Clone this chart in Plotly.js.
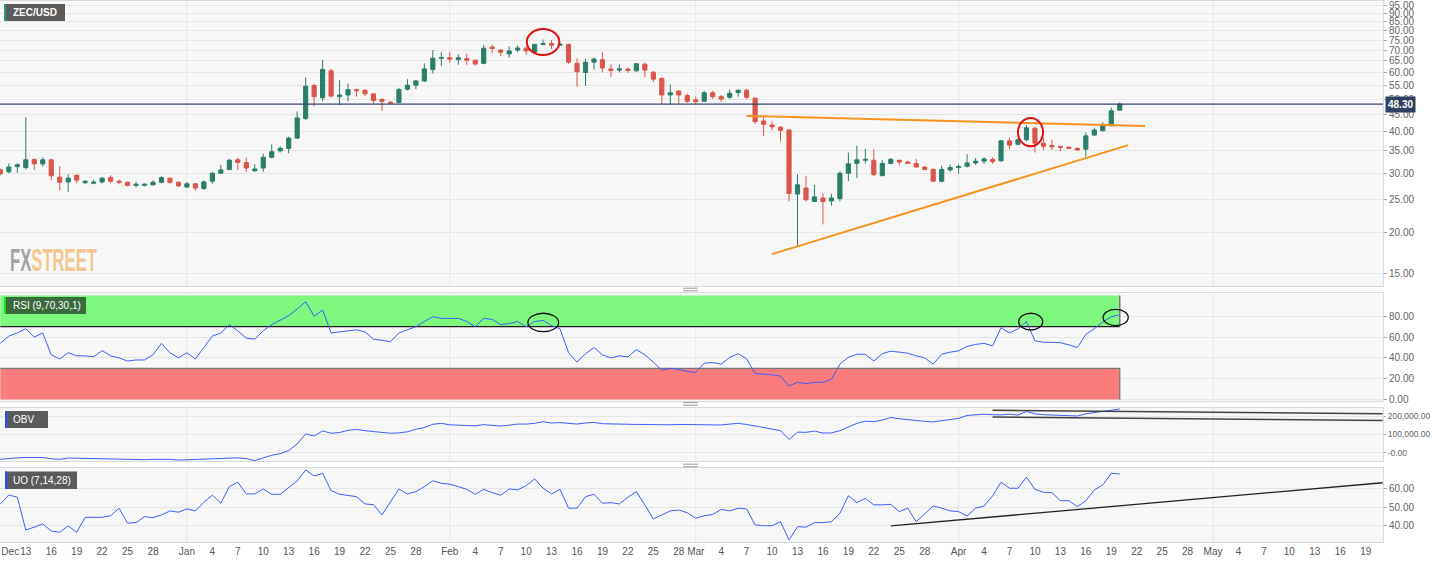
<!DOCTYPE html>
<html><head><meta charset="utf-8">
<script src="https://cdn.plot.ly/plotly-3.0.1.min.js"></script>
<style>html,body{margin:0;padding:0;background:#fff;}#chart{width:1432px;height:561px;}</style>
</head><body><div id="chart"></div>
<script>
// ---------- DATA ----------
const startDate = [2019, 11, 10]; // first daily candle: 2019-12-10
const openP = [30.7,30.3,31.4,31.2,33.0,32.0,32.9,29.2,28.25,29.6,
28.1,28.0,28.25,29.1,28.4,28.2,27.6,27.6,27.7,28.2,
29.0,28.2,27.3,27.9,27.0,28.4,30.0,30.8,32.9,32.3,
30.5,31.1,33.5,35.0,35.6,38.2,43.7,54.9,50.4,60.7,
50.8,51.4,53.4,53.1,51.8,49.8,48.9,48.8,53.5,55.0,
56.6,61.3,66.2,66.4,65.6,66.0,65.3,63.9,71.5,70.0,
68.2,70.0,70.9,68.9,72.8,73.2,72.4,72.8,63.9,60.0,
64.4,65.5,61.5,61.0,61.4,60.7,63.5,60.1,57.6,51.4,
52.8,51.2,49.7,49.2,52.2,50.8,50.6,52.3,53.1,50.3,
43.0,41.8,41.2,40.4,26.0,27.1,24.7,25.3,24.8,25.2,
30.0,32.1,32.8,32.8,29.5,32.1,32.8,32.4,32.1,31.3,
30.8,28.4,30.7,31.2,31.5,32.2,32.6,33.0,32.7,37.5,
36.6,37.8,40.9,36.9,36.3,36.1,35.9,35.6,35.4,39.0,
40.2,41.6,46.3];
const highP = [31.0,32.1,32.1,44.1,33.1,33.5,33.0,31.5,29.8,29.7,
28.6,28.7,29.2,29.6,28.7,28.3,28.3,28.0,28.6,29.4,
29.1,28.4,28.2,28.0,28.6,30.3,31.8,33.1,33.4,33.4,
31.9,34.3,36.6,36.1,38.6,45.9,58.0,55.5,65.4,61.5,
56.9,55.6,53.4,53.6,51.8,50.3,49.3,54.0,57.3,56.9,
63.9,70.0,69.0,69.0,68.0,68.3,65.5,72.6,72.6,70.4,
71.9,72.3,71.9,73.0,75.3,75.0,73.6,73.2,66.1,65.9,
66.5,69.0,63.5,63.5,62.2,64.0,64.3,60.6,58.0,55.3,
53.2,51.9,50.9,52.9,52.9,51.4,53.3,53.4,53.6,50.5,
44.1,42.8,41.5,40.5,29.8,29.5,27.7,26.1,26.0,30.4,
34.6,36.3,35.5,35.4,32.8,33.3,32.9,32.7,33.1,31.4,
31.0,31.6,31.9,31.9,34.2,33.3,33.5,33.5,37.7,38.3,
38.1,41.8,41.2,38.3,37.8,36.1,36.0,35.9,39.7,41.0,
42.6,47.1,48.8];
const lowP = [29.6,30.0,30.1,30.8,30.7,31.4,28.6,26.7,26.4,28.0,
27.9,27.8,28.0,28.0,27.8,27.4,27.2,27.4,27.6,28.0,
27.9,27.3,27.1,26.6,26.8,27.9,29.9,30.6,30.7,30.3,
30.3,30.3,33.2,34.6,34.4,38.0,43.3,47.5,49.2,50.5,
47.9,49.2,50.8,51.0,48.3,46.1,48.3,48.6,53.1,53.5,
56.2,59.6,62.8,64.2,63.3,63.3,62.9,63.5,68.5,67.2,
66.4,68.9,67.8,68.2,72.3,70.5,72.0,63.7,54.4,54.7,
61.2,60.0,58.3,60.0,59.8,60.3,58.2,56.2,48.3,48.2,
48.3,48.7,48.3,49.0,50.0,49.0,50.0,50.8,50.0,42.1,
38.8,40.3,37.3,24.7,18.1,24.7,24.6,21.1,24.0,24.7,
28.4,29.0,32.1,29.4,29.4,31.9,31.7,32.0,31.2,30.6,
28.3,28.2,30.3,29.9,31.2,31.8,32.0,32.0,32.5,35.4,
36.4,37.4,34.6,35.2,35.2,34.9,35.4,35.0,33.6,38.8,
40.0,41.4,46.3];
const closeP = [29.9,31.3,31.8,32.9,32.0,32.9,29.5,28.2,29.0,28.6,
28.4,28.2,29.0,28.4,28.2,27.6,27.8,27.8,28.2,29.1,
28.2,27.5,27.9,27.1,28.25,30.0,30.7,32.8,32.3,31.1,
30.9,33.5,34.8,35.6,38.2,43.9,54.6,50.8,61.3,51.0,
51.4,53.3,52.9,51.8,49.5,49.2,48.6,53.4,55.0,56.6,
61.5,66.2,66.5,65.8,66.4,65.3,63.6,70.9,70.8,69.0,
69.6,71.0,69.6,72.8,73.2,72.4,72.8,64.4,60.3,64.4,
65.8,61.9,60.9,61.5,60.9,63.7,61.0,57.3,51.4,52.2,
51.4,49.2,49.1,52.2,50.8,50.0,52.0,53.1,50.6,42.8,
42.0,41.3,40.3,26.1,27.7,25.0,25.5,24.7,25.3,30.0,
32.0,32.9,33.0,29.7,32.1,33.0,32.4,32.1,31.3,30.8,
28.4,30.8,31.2,31.4,32.2,32.6,33.1,32.5,37.5,36.4,
37.8,41.0,36.9,36.1,36.0,35.8,35.6,35.2,38.8,40.4,
41.6,46.1,48.3];
const rsiValues = [54,61,64,68,60,64,43,39,45,42,
42,41,47,42,40,37,38,38,43,54,
45,40,45,39,50,61,64,72,66,59,
58,66,72,76,80.5,87,94,80,86,64,
65,66,67,65,58,57,55.6,64,67,70,
75,79.6,78,78,78,75,70,78,77,72,
73,75,70,75,76,71,68,45,36,44,
50,43,40,42,41,48,43,36,28,30,
29,27,26,35,35.5,34,40.5,44,39,25,
24.5,23.7,22.5,13,16.5,15.3,16.5,16.5,19.5,34,
40.6,43.5,43.5,37,44,46.5,45.5,44.5,42,40,
34,43.5,45.5,46.8,51,53,54,51.5,69,64,
68,74.8,56.5,55,55,54.6,52.5,50,62.6,68,
74.5,79.5,81.5];
const obvValues = [-36000,-30000,-28000,-26000,-26000,-26000,-33000,-36000,-29000,-30000,
-31000,-33000,-34000,-36000,-36000,-38000,-40000,-38000,-36000,-35000,
-36000,-40000,-38000,-37000,-36000,-31000,-28000,-26000,-28000,-32000,
-43000,-28000,-14000,-5000,12000,48000,103000,91000,119000,106000,
110000,122000,127000,120000,114000,110000,106000,108000,114000,128000,
137000,155000,160000,152000,151000,150000,146000,153000,148000,145000,
150000,156000,156000,160000,169000,162000,164000,160000,156000,162000,
165000,158000,156000,155000,155000,154000,154000,153000,151000,152000,
154000,153000,152000,151000,151000,151000,156000,160000,154000,145000,
135000,128000,120000,72000,112000,111000,118000,107000,108000,120000,
142000,160000,172000,169000,178000,192000,185000,179000,175000,171000,
168000,175000,180000,187000,203000,207000,210000,207000,206000,210000,
205000,225000,212000,207000,205000,205000,205000,200000,212000,218000,
223000,232000,238000];
const uoValues = [51.8,56.7,55.5,37.6,39.1,40.9,37,36.3,39.8,36.3,
44.5,44.5,44.5,45.4,49.5,41.3,41.6,44.9,44.3,45.8,
48,47.3,49.1,48,52.7,56.6,52.2,61.3,63.7,57.3,
57.3,60,57.1,57.1,60.9,64.4,70.4,67.1,68.6,59.1,
57.1,56.3,55.8,51.8,51.4,45.8,52.7,60,57.3,58.5,
61.3,64.5,63.1,62.6,61.3,59.8,57.1,59.8,58,56.6,
60,59.5,61.8,65.5,60.4,57.3,59.8,49.5,49.5,55.8,
57.1,52.2,52.5,51.8,55.5,58.5,51.3,43.6,45.8,48,
48.5,47,44,45.4,46,48.9,48,49.5,49.1,40.3,
39.9,39.9,42.1,32.1,39.4,39.1,41.6,41.6,42.1,46.7,
56.3,52.5,54.9,51.3,51.3,51.6,47.6,49.5,42.1,46.3,
50.7,49.5,48,47.6,45.2,49.5,50.7,56.2,63.7,60.4,
60.4,66.4,59.8,58.2,58,53.6,53.6,50.3,53.6,59.5,
62.2,68.6,68.2];

// drawn trend lines (endpoints)
const upperTrendX = ['2020-03-07','2020-04-23'], upperTrendY = [44.5, 41.5];
const lowerTrendX = ['2020-03-10','2020-04-21'], lowerTrendY = [17.2, 36.4];
const obvTopX = ['2020-04-05','2020-05-21'], obvTopY = [231000, 212500];
const obvBotX = ['2020-04-05','2020-05-21'], obvBotY = [194600, 175500];
const uoTrendX = ['2020-03-24','2020-05-21'], uoTrendY = [39.8, 63.4];

// highlighted zones (date span, value span)
const redCircles = [
  {x:['2020-02-10 02:00','2020-02-13 22:00'], y:[67.7, 80.9]},
  {x:['2020-04-08 00:00','2020-04-10 23:00'], y:[36.1, 43.9]}
];
const rsiCircles = [
  {x:['2020-02-10 05:00','2020-02-13 20:00'], y:[65.2, 82.9]},
  {x:['2020-04-08 02:00','2020-04-10 22:00'], y:[66.8, 82.9]},
  {x:['2020-04-18 01:00','2020-04-21 00:00'], y:[71, 86.7]}
];

const xTickVals = ['2019-12-11 04:00','2019-12-13','2019-12-16','2019-12-19','2019-12-22','2019-12-25','2019-12-28',
'2020-01-01','2020-01-04','2020-01-07','2020-01-10','2020-01-13','2020-01-16','2020-01-19','2020-01-22','2020-01-25','2020-01-28',
'2020-02-01','2020-02-04','2020-02-07','2020-02-10','2020-02-13','2020-02-16','2020-02-19','2020-02-22','2020-02-25','2020-02-28',
'2020-03-01','2020-03-04','2020-03-07','2020-03-10','2020-03-13','2020-03-16','2020-03-19','2020-03-22','2020-03-25','2020-03-28',
'2020-04-01','2020-04-04','2020-04-07','2020-04-10','2020-04-13','2020-04-16','2020-04-19','2020-04-22','2020-04-25','2020-04-28',
'2020-05-01','2020-05-04','2020-05-07','2020-05-10','2020-05-13','2020-05-16','2020-05-19'];
const xTickText = ['Dec','13','16','19','22','25','28',
'Jan','4','7','10','13','16','19','22','25','28',
'Feb','4','7','10','13','16','19','22','25','28',
'Mar','4','7','10','13','16','19','22','25','28',
'Apr','4','7','10','13','16','19','22','25','28',
'May','4','7','10','13','16','19'];
const monthStarts = ['2020-01-01','2020-02-01','2020-03-01','2020-04-01','2020-05-01'];
const priceTicks = [15,20,25,30,35,40,45,50,55,60,65,70,75,80,85,90,95];
const priceTickText = ['15.00','20.00','25.00','30.00','35.00','40.00','45.00','50.00','55.00','60.00','65.00','70.00','75.00','80.00','85.00','90.00','95.00'];
const rsiTicks = [0,20,40,60,80], rsiTickText = ['0.00','20.00','40.00','60.00','80.00'];
const obvTicks = [0,100000,200000], obvTickText = ['-0.00','100,000.00','200,000.00'];
const uoTicks = [40,50,60], uoTickText = ['40.00','50.00','60.00'];
const xRange = ['2019-12-09 23:00','2020-05-21 01:00'];
const priceRangeLog = [1.1402, 1.9918];

// ---------- BUILD ----------
const dates = closeP.map((_, i) => new Date(Date.UTC(startDate[0], startDate[1], startDate[2] + i)).toISOString().slice(0, 10));
const firstD = dates[0], lastD = dates[dates.length - 1];
const lastClose = closeP[closeP.length - 1];
const priceFrac = v => (Math.log10(v) - priceRangeLog[0]) / (priceRangeLog[1] - priceRangeLog[0]);

const GREEN = '#2b7e69', RED = '#d95649', BLUE = '#3f5efb', ORANGE = '#f7931e';
const FONT = 'Liberation Sans, Arial, sans-serif';

const traces = [
  {type:'candlestick', x:dates, open:openP, high:highP, low:lowP, close:closeP, xaxis:'x', yaxis:'y',
   increasing:{line:{color:GREEN,width:1}, fillcolor:GREEN},
   decreasing:{line:{color:RED,width:1}, fillcolor:RED}, hoverinfo:'skip', showlegend:false},
  {type:'scatter', mode:'lines', x:upperTrendX, y:upperTrendY, xaxis:'x', yaxis:'y', line:{color:ORANGE,width:2}, hoverinfo:'skip'},
  {type:'scatter', mode:'lines', x:lowerTrendX, y:lowerTrendY, xaxis:'x', yaxis:'y', line:{color:ORANGE,width:2}, hoverinfo:'skip'},
  // RSI bands
  {type:'scatter', mode:'lines', x:[firstD,lastD,lastD,firstD,firstD], y:[70,70,100,100,70], fill:'toself', fillcolor:'#7ef77e', line:{width:0}, xaxis:'x2', yaxis:'y2', hoverinfo:'skip'},
  {type:'scatter', mode:'lines', x:[firstD,lastD,lastD,firstD,firstD], y:[0,0,30,30,0], fill:'toself', fillcolor:'#fa7c7c', line:{width:0}, xaxis:'x2', yaxis:'y2', hoverinfo:'skip'},
  {type:'scatter', mode:'lines', x:[firstD,lastD], y:[70,70], line:{color:'#222',width:1.2}, xaxis:'x2', yaxis:'y2', hoverinfo:'skip'},
  {type:'scatter', mode:'lines', x:[lastD,lastD], y:[70,100], line:{color:'#777',width:1.5}, xaxis:'x2', yaxis:'y2', hoverinfo:'skip'},
  {type:'scatter', mode:'lines', x:[firstD,lastD,lastD], y:[30,30,0], line:{color:'#777',width:1.2}, xaxis:'x2', yaxis:'y2', hoverinfo:'skip'},
  {type:'scatter', mode:'lines', x:dates, y:rsiValues, line:{color:BLUE,width:1}, xaxis:'x2', yaxis:'y2', hoverinfo:'skip'},
  // OBV
  {type:'scatter', mode:'lines', x:dates, y:obvValues, line:{color:BLUE,width:1}, xaxis:'x3', yaxis:'y3', hoverinfo:'skip'},
  {type:'scatter', mode:'lines', x:obvTopX, y:obvTopY, line:{color:'#444',width:1.5}, xaxis:'x3', yaxis:'y3', hoverinfo:'skip'},
  {type:'scatter', mode:'lines', x:obvBotX, y:obvBotY, line:{color:'#444',width:1.5}, xaxis:'x3', yaxis:'y3', hoverinfo:'skip'},
  // UO
  {type:'scatter', mode:'lines', x:dates, y:uoValues, line:{color:BLUE,width:1}, xaxis:'x4', yaxis:'y4', hoverinfo:'skip'},
  {type:'scatter', mode:'lines', x:uoTrendX, y:uoTrendY, line:{color:'#222',width:1.3}, xaxis:'x4', yaxis:'y4', hoverinfo:'skip'}
];

// pixel helpers for decorations
const PW = 1383, PT = 1, PB = 542;
const px = x => x / PW, py = y => (PB - y) / (PB - PT);

const BORDER = '#d5dae3', GRID = '#e6e6e6';
const yCommon = {side:'right', ticks:'outside', ticklen:3, tickcolor:'#aaa', gridcolor:GRID, gridwidth:1,
  showline:true, mirror:true, linecolor:BORDER, zeroline:false, tickmode:'array',
  tickfont:{family:FONT, size:10, color:'#666'}, fixedrange:true};
const xCommon = {type:'date', range:xRange, showgrid:false, showline:true, mirror:true, linecolor:BORDER,
  zeroline:false, ticks:'', showticklabels:false, fixedrange:true};

const shapes = [];
const panels = [['x','y domain'],['x2','y2 domain'],['x3','y3 domain'],['x4','y4 domain']];
panels.forEach(([xr, yr]) => monthStarts.forEach(m => shapes.push({type:'line', xref:xr, yref:yr, x0:m, x1:m, y0:0, y1:1, line:{color:GRID,width:1}, layer:'below'})));
// last price line
shapes.push({type:'line', xref:'x domain', yref:'y domain', x0:0, x1:1, y0:priceFrac(lastClose), y1:priceFrac(lastClose), line:{color:'#34466a',width:1.2}});
redCircles.forEach(c => shapes.push({type:'circle', xref:'x', yref:'y domain', x0:c.x[0], x1:c.x[1], y0:priceFrac(c.y[0]), y1:priceFrac(c.y[1]), line:{color:'#e01010',width:2}}));
rsiCircles.forEach(c => shapes.push({type:'circle', xref:'x2', yref:'y2', x0:c.x[0], x1:c.x[1], y0:c.y[0], y1:c.y[1], line:{color:'#111',width:1.3}}));
// label boxes
function box(x0, x1, y0, y1, fill, accent) {
  shapes.push({type:'rect', xref:'paper', yref:'paper', x0:px(x0), x1:px(x1), y0:py(y1), y1:py(y0), fillcolor:fill, line:{width:0}});
  shapes.push({type:'rect', xref:'paper', yref:'paper', x0:px(x0), x1:px(x0+2), y0:py(y1), y1:py(y0), fillcolor:accent, line:{width:0}});
}
box(4, 65, 4, 21, '#5b5b5b', '#2f9a7c');
box(4, 86, 297, 314, '#3a6b3c', '#1ee21e');
box(5, 48, 411, 428, '#5b5b5b', '#2b4cff');
box(5, 77, 471.5, 489, '#5b5b5b', '#2b4cff');
// separator handles
[289.5, 404, 465.5].forEach(y => {
  [y - 1.3, y + 1.3].forEach(yy => shapes.push({type:'line', xref:'paper', yref:'paper', x0:px(683), x1:px(698), y0:py(yy), y1:py(yy), line:{color:'#999',width:1}}));
});

function lbl(text, x, y, opts) {
  return Object.assign({xref:'paper', yref:'paper', x:px(x), y:py(y), xanchor:'left', yanchor:'middle', showarrow:false,
    text:text, font:{family:FONT, size:10, color:'#ffffff'}}, opts || {});
}
const annotations = [
  lbl('<b>ZEC/USD</b>', 11, 12.5),
  lbl('RSI (9,70,30,1)', 11, 305.5),
  lbl('OBV', 11, 419.5),
  lbl('UO (7,14,28)', 11, 480),
  lbl("<b><span style='color:#a3a3a3'>FX</span><span style='color:#f3c68f'>STREET</span></b>", 8, 260,
      {font:{family:'Liberation Sans, Arial, sans-serif', size:31, color:'#a3a3a3'}}),
  {xref:'paper', yref:'y domain', x:1, y:priceFrac(lastClose), xanchor:'left', yanchor:'middle', xshift:2, showarrow:false,
   text:'<b>' + lastClose.toFixed(2) + '</b>', font:{family:FONT, size:10, color:'#ffffff'}, bgcolor:'#2f4163', borderpad:2}
];

const layout = {
  width:1432, height:561, margin:{l:0, r:49, t:1, b:19},
  paper_bgcolor:'#ffffff', plot_bgcolor:'#f7f7f7', showlegend:false,
  font:{family:FONT, size:10, color:'#555'},
  xaxis: Object.assign({}, xCommon, {domain:[0,1], anchor:'y', rangeslider:{visible:false}}),
  xaxis2: Object.assign({}, xCommon, {domain:[0,1], anchor:'y2', matches:'x'}),
  xaxis3: Object.assign({}, xCommon, {domain:[0,1], anchor:'y3', matches:'x'}),
  xaxis4: Object.assign({}, xCommon, {domain:[0,1], anchor:'y4', matches:'x', showticklabels:true, tickmode:'array',
    tickvals:xTickVals, ticktext:xTickText, tickangle:0, ticklabeloverflow:'allow', tickfont:{family:FONT, size:10, color:'#555'}}),
  yaxis: Object.assign({}, yCommon, {domain:[0.4732,1], anchor:'x', type:'log', range:priceRangeLog, tickvals:priceTicks, ticktext:priceTickText}),
  yaxis2: Object.assign({}, yCommon, {domain:[0.2606,0.4597], anchor:'x2', range:[-1.44,102.1], tickvals:rsiTicks, ticktext:rsiTickText}),
  yaxis3: Object.assign({}, yCommon, {domain:[0.1497,0.2486], anchor:'x3', range:[-45200,246300], tickvals:obvTicks, ticktext:obvTickText,
    ticklen:2, tickfont:{family:FONT, size:8.5, color:'#666'}}),
  yaxis4: Object.assign({}, yCommon, {domain:[0,0.1362], anchor:'x4', range:[31.0,71.3], tickvals:uoTicks, ticktext:uoTickText}),
  shapes:shapes, annotations:annotations
};

Plotly.newPlot('chart', traces, layout, {displayModeBar:false, staticPlot:true}).then(() => {
  // condense the watermark horizontally to match the logo's narrow lettering
  document.querySelectorAll('.annotation-text').forEach(t => {
    if (t.textContent === 'FXSTREET') {
      const bb = t.getBBox();
      const sx = 87 / bb.width;
      t.setAttribute('transform', 'translate(' + (bb.x * (1 - sx)) + ',0) scale(' + sx + ',1)');
    }
  });
});
</script></body></html>
